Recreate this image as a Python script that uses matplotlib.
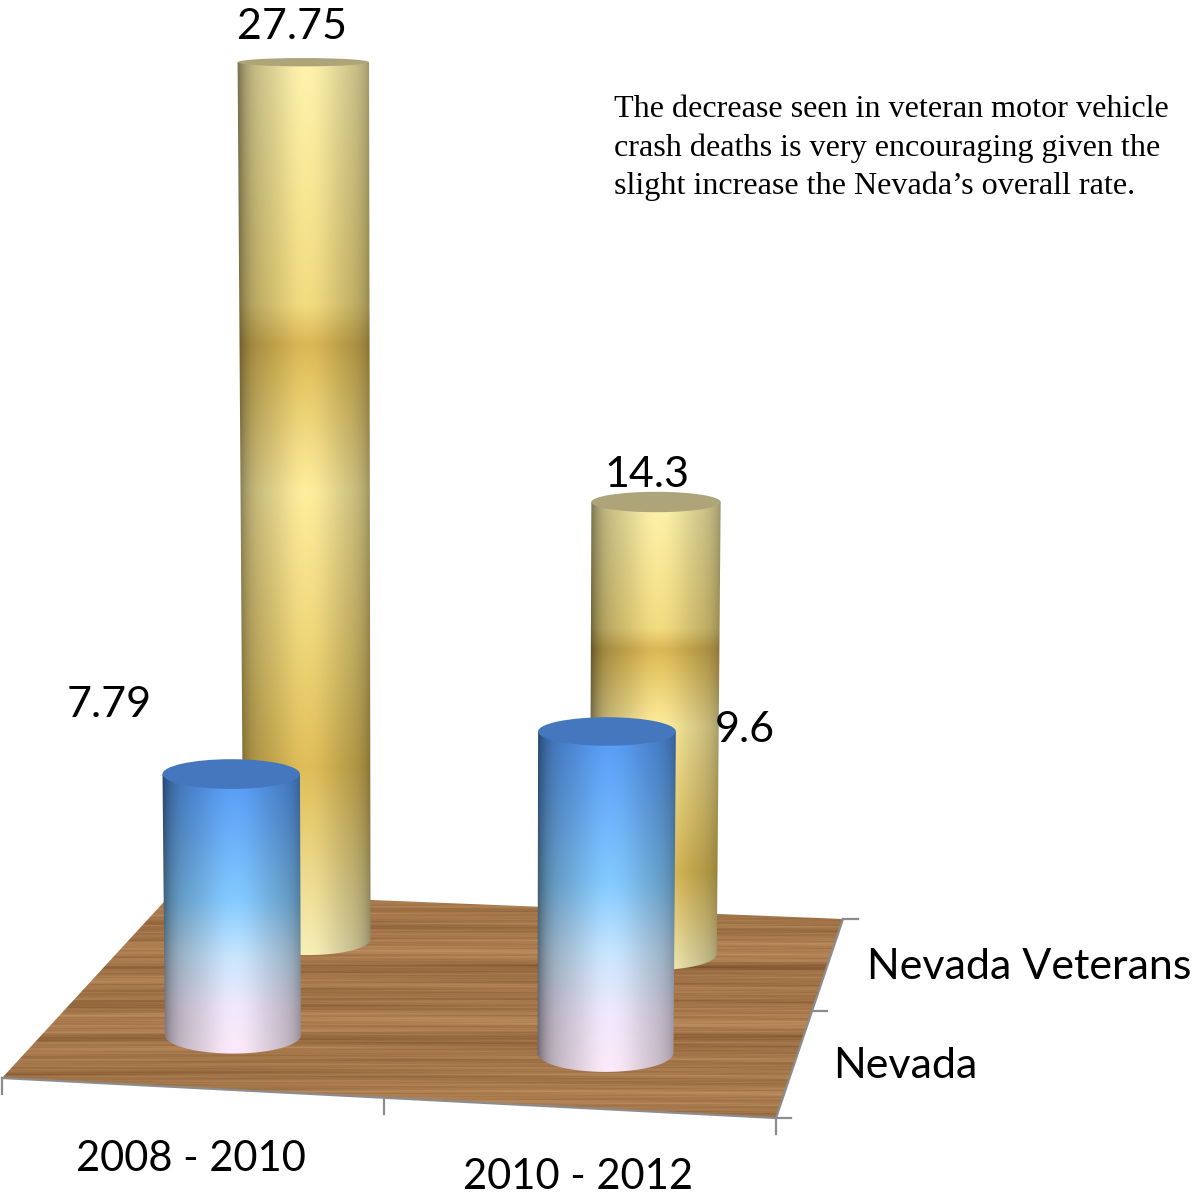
import numpy as np
import matplotlib
matplotlib.use("Agg")
import matplotlib.pyplot as plt
from matplotlib.patches import Polygon, Ellipse
from matplotlib.colors import to_rgb

# ---- data ----
periods = ["2008 - 2010", "2010 - 2012"]
series_names = ["Nevada", "Nevada Veterans"]
nevada = [7.79, 9.6]
veterans = [27.75, 14.3]
note = ("The decrease seen in veteran motor vehicle\n"
        "crash deaths is very encouraging given the\n"
        "slight increase the Nevada\u2019s overall rate.")

# ---- projected chart box (figure pixels) ----
W = H = 1196
FL, FR, BR, BL = (2, 1078), (776, 1118), (843, 919), (173, 892)
GOLD_STOPS = [(0, "#FFF3AC"), (.27, "#F2DC80"), (.315, "#DAB755"), (.35, "#E4C562"),
              (.48, "#FFEE9E"), (.65, "#EFD679"), (.79, "#DFBE58"), (.86, "#E8CF76"), (1, "#F8F0B8")]
BLUE_STOPS = [(0, "#559AF5"), (.2, "#69AEFA"), (.45, "#84CBFF"), (.65, "#C8E6FF"),
              (.82, "#F0E8FC"), (1, "#FDEAFA")]
STYLE = {"veterans": dict(stops=GOLD_STOPS, top="#ADA47A", r=63.5, px=31.6, v=.76),
         "nevada": dict(stops=BLUE_STOPS, top="#4577BE", r=68.0, px=33.5, v=.25)}


def homography(src, dst):
    A, b = [], []
    for (u, v), (x, y) in zip(src, dst):
        A.append([u, v, 1, 0, 0, 0, -u * x, -v * x]); b.append(x)
        A.append([0, 0, 0, u, v, 1, -u * y, -v * y]); b.append(y)
    return np.append(np.linalg.solve(np.array(A, float), np.array(b, float)), 1).reshape(3, 3)


HM = homography([(0, 0), (1, 0), (1, 1), (0, 1)], [FL, FR, BR, BL])


def floor(u, v):
    p = HM @ np.array([u, v, 1.0])
    return p[:2] / p[2]


def minor(r, y):
    return r * (.05 + .000215 * y)


def ramp(stops, n):
    pos = [s[0] for s in stops]
    cols = np.array([to_rgb(s[1]) for s in stops])
    t = np.linspace(0, 1, n)
    return np.stack([np.interp(t, pos, cols[:, i]) for i in range(3)], 1)


def cylinder(ax, u, value, st, z):
    cx, cy = floor(u, st["v"])
    h = value * st["px"]
    r0, r1 = st["r"], st["r"] * (1 + 4e-5 * h)
    tx, ty = cx + (cx - 450) * h * 3e-5, cy - h
    b0, b1 = minor(r0, cy), minor(r1, ty)
    th = np.linspace(0, np.pi, 80)
    lower = np.c_[cx + r0 * np.cos(th), cy + b0 * np.sin(th)]
    body = np.vstack([lower, [[tx - r1, ty]], [[tx + r1, ty]]])
    left, right = tx - r1 - 2, tx + r1 + 2
    top, bot = ty, cy + b0 + 1
    ny, nx = 500, 240
    col = ramp(st["stops"], ny)[:, None, :]
    s = np.linspace(-1, 1, nx) - .04
    lit = np.exp(-(s / .5) ** 2)
    shade = (.79 + .21 * lit) * (1 - .38 * np.abs(s) ** 7)
    rgb = col * shade[None, :, None]
    im = ax.imshow(np.clip(rgb, 0, 1), extent=(left, right, bot, top), origin="upper",
                   aspect="auto", zorder=z, interpolation="bilinear")
    clip = Polygon(body, closed=True, transform=ax.transData, fc="none", ec="none")
    ax.add_patch(clip)
    im.set_clip_path(clip)
    ax.add_patch(Ellipse((tx, ty), 2 * r1, 2 * b1, fc=st["top"], ec="none", zorder=z + .1))
    return tx, ty


fig = plt.figure(figsize=(W / 100, H / 100), dpi=100, facecolor="white")
ax = fig.add_axes([0, 0, 1, 1])
ax.axis("off")

# wood floor
yy, xx = np.mgrid[880:1125, 0:850]
tone = np.zeros(yy.shape, float)
for f, a, g, ph in [(.173, 4, .8, .3), (.377, 5, -1.3, 1.7), (.71, 4, 1.9, 2.9), (1.13, 5, -2.4, .8),
                    (1.87, 4, 3.1, 4.1), (2.71, 3, -3.7, 5.2), (.091, 6, .5, 2.2)]:
    tone += a * np.sin(yy * f + ph + g * np.sin(xx * .006 + ph * 2) + xx * .0017 * g)
for yc, w, a in [(967, 4, 20), (1037, 4, 18), (1005, 3, 7), (1085, 4, 8)]:
    tone -= a * np.exp(-((yy - yc) / w) ** 2)
wood = np.stack([166 + tone, 120 + tone * .95, 76 + tone * .8], 2)
wood_im = ax.imshow(np.clip(wood, 0, 255).astype(np.uint8), extent=(0, 850, 1125, 880),
                    origin="upper", aspect="auto", zorder=1, interpolation="bilinear")
fl = Polygon([FL, FR, BR, BL], closed=True, transform=ax.transData, fc="none", ec="none")
ax.add_patch(fl)
wood_im.set_clip_path(fl)

# floor edges and tick marks
GRAY = "#8C8C8C"
ax.plot(*zip(FL, FR, BR), color=GRAY, lw=1.6, zorder=2)
for u in (0, .505, 1):
    x, y = floor(u, 0)
    ax.plot([x, x], [y, y + 16], color=GRAY, lw=1.6, zorder=2)
for v in (0, .5, 1):
    x, y = floor(1, v)
    ax.plot([x, x + 15], [y, y], color=GRAY, lw=1.6, zorder=2)

# cylinders, back row first
us = [.254, .754]
tops_v = [cylinder(ax, u, val, STYLE["veterans"], 3 + i) for i, (u, val) in enumerate(zip(us, veterans))]
tops_n = [cylinder(ax, u, val, STYLE["nevada"], 6 + i) for i, (u, val) in enumerate(zip(us, nevada))]

# value labels, placed relative to each cylinder top
LF = "Lato"
for (tx, ty), val, (dx, dy) in zip(tops_v + tops_n, veterans + nevada,
                                   [(-11, -35), (-9, -27), (-122, -69), (138, -1)]):
    ax.text(tx + dx, ty + dy, f"{val:g}", family=LF, fontsize=31, ha="center", va="center", zorder=10, color="black")

ax.text(191, 1159, periods[0], family=LF, fontsize=30, ha="center", va="center", color="black", zorder=10)
ax.text(578, 1177, periods[1], family=LF, fontsize=30, ha="center", va="center", color="black", zorder=10)
ax.text(833, 1066, series_names[0], family=LF, fontsize=31, ha="left", va="center", color="black", zorder=10)
ax.text(867, 967, series_names[1], family=LF, fontsize=31, ha="left", va="center", color="black", zorder=10)

for i, line in enumerate(note.split("\n")):
    ax.text(614, 109.5 + 38.5 * i, line, family="Liberation Serif", fontsize=23.1,
            ha="left", va="center", color="black", zorder=10)

ax.set_xlim(0, W)
ax.set_ylim(H, 0)
fig.savefig("out.png", dpi=100, facecolor="white")
